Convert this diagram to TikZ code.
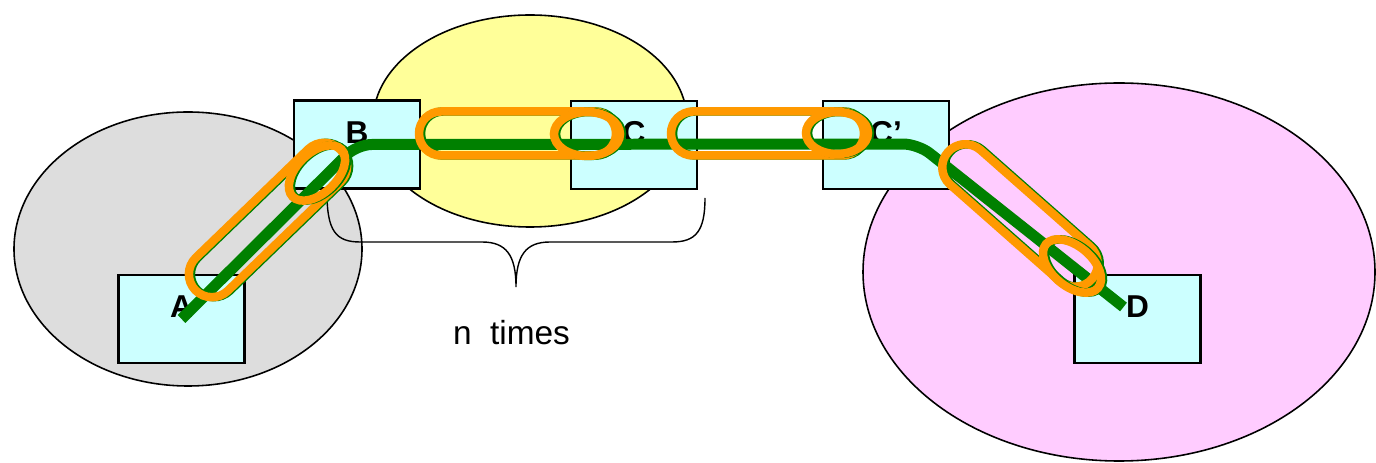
\documentclass[tikz,border=0pt]{standalone}
\usepackage{fontspec}
\setmainfont{Liberation Sans}
\definecolor{lsrcyan}{HTML}{CCFFFF}
\definecolor{areagrey}{HTML}{DDDDDD}
\definecolor{areayellow}{HTML}{FFFF99}
\definecolor{areapink}{HTML}{FFCCFF}
\definecolor{lspgreen}{HTML}{008000}
\definecolor{tunorange}{HTML}{FF9900}
\begin{document}
\begin{tikzpicture}[x=0.02cm,y=0.02cm,
    area/.style={draw,line width=0.9pt},
    lsr/.style={draw,line width=1.2pt,fill=lsrcyan,inner sep=0pt,
      minimum width=2.52cm,minimum height=1.76cm},
    lbl/.style={font=\fontsize{18}{20}\selectfont\bfseries},
    lsp/.style={draw=lspgreen,line width=0.22cm,rounded corners=0.3cm},
    tunnel/.style={draw=tunorange,line width=0.17cm,
      preaction={draw=lspgreen,line width=0.17cm,transform canvas={xshift=0.04cm}}},
    bracket/.style={draw,line width=0.8pt}]
  \useasboundingbox (0,0) rectangle (1376,463);

  \draw[area,fill=areagrey]   (188,214)  ellipse [x radius=174,y radius=137];
  \draw[area,fill=areayellow] (530,342)  ellipse [x radius=157,y radius=106];
  \draw[area,fill=areapink]   (1119,191) ellipse [x radius=256,y radius=189];

  \node[lsr] (A)  at (181.5,144) {};
  \node[lsr] (B)  at (357,318.5) {};
  \node[lsr] (C)  at (634,318)   {};
  \node[lsr] (C2) at (886,318)   {};
  \node[lsr] (D)  at (1137.5,144) {};

  \node[lbl] (A-l)  at ([yshift=-0.66cm]A.north)  {A};
  \node[lbl] (B-l)  at ([yshift=-0.66cm]B.north)  {B};
  \node[lbl] (C-l)  at ([yshift=-0.66cm]C.north)  {C};
  \node[lbl] (C2-l) at ([yshift=-0.66cm]C2.north) {C'};
  \node[lbl] (D-l)  at ([yshift=-0.66cm]D.north)  {D};

  \draw[bracket] (327,270) .. controls (327,232) and (336,221) .. (360,221)
    -- (482,221) .. controls (506,221) and (516,208) .. (516,176)
    .. controls (516,208) and (526,221) .. (550,221)
    -- (672,221) .. controls (696,221) and (705,232) .. (705,265);
  \node[font=\fontsize{19}{21}\selectfont] (times) at (511.5,130.5) {n\ \ times};

  % the LSP
  \draw[lsp] (A.center) -- (B.center) -- ([xshift=0.64cm,yshift=0.02cm]C2.center)
    -- ([shift={(-14,12)}]D.center);

  % tunnels
  \begin{scope}[shift={(268,243)},rotate=44]
    \draw[tunnel,rounded corners=0.46cm] (-101,-23) rectangle (101,23);
  \end{scope}
  \draw[tunnel,rotate around={44:(317,290)}] (317,290) ellipse [x radius=34,y radius=20];

  \draw[tunnel,rounded corners=0.44cm] (419,307.5) rectangle (616,351.5);
  \draw[tunnel] (587,329) ellipse [x radius=33,y radius=22];

  \draw[tunnel,rounded corners=0.44cm] (671,307.5) rectangle (864,351.5);
  \draw[tunnel] (837,330) ellipse [x radius=31,y radius=21];

  \begin{scope}[shift={(1020,247.5)},rotate=-41.4]
    \draw[tunnel,rounded corners=0.46cm] (-96,-23) rectangle (96,23);
  \end{scope}
  \draw[tunnel,rotate around={-40:(1072,197)}] (1072,197) ellipse [x radius=34,y radius=20];
\end{tikzpicture}
\end{document}
